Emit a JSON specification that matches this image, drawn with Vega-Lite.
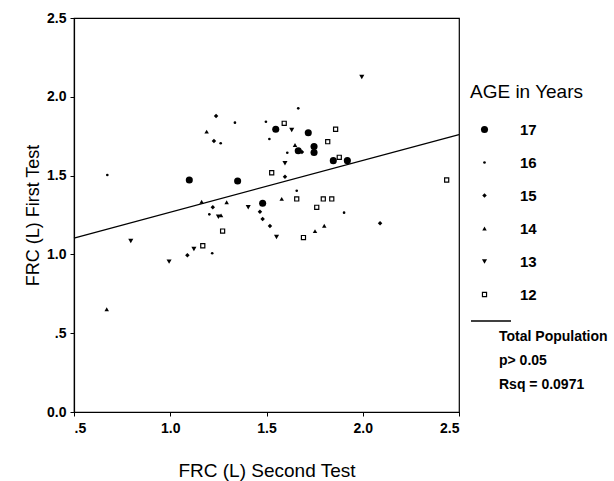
{
  "$schema": "https://vega.github.io/schema/vega-lite/v6.json",
  "width": 385,
  "height": 394,
  "autosize": {"type": "none"},
  "padding": {"left": 74, "top": 18, "right": 155, "bottom": 69},
  "background": "white",
  "config": {
    "font": "Liberation Sans",
    "view": {"stroke": "black", "strokeWidth": 1.2},
    "axis": {
      "grid": false,
      "domainColor": "black",
      "domainWidth": 1.2,
      "tickColor": "black",
      "tickSize": 4,
      "labelColor": "black",
      "titleColor": "black",
      "labelFont": "Liberation Sans",
      "titleFont": "Liberation Sans",
      "labelFontWeight": "bold",
      "labelFontSize": 14,
      "titleFontSize": 18,
      "titleFontWeight": "normal"
    },
    "legend": {
      "symbolFillColor": "black",
      "symbolStrokeWidth": 0
    }
  },
  "datasets": {
    "points": [
      {"second": 1.995, "first": 2.126, "age": "13"},
      {"second": 1.665, "first": 1.927, "age": "16"},
      {"second": 1.238, "first": 1.878, "age": "15"},
      {"second": 1.336, "first": 1.836, "age": "16"},
      {"second": 1.497, "first": 1.842, "age": "16"},
      {"second": 1.548, "first": 1.794, "age": "17"},
      {"second": 1.189, "first": 1.779, "age": "14"},
      {"second": 1.227, "first": 1.720, "age": "15"},
      {"second": 1.262, "first": 1.705, "age": "16"},
      {"second": 1.515, "first": 1.732, "age": "16"},
      {"second": 1.592, "first": 1.832, "age": "12"},
      {"second": 1.631, "first": 1.789, "age": "13"},
      {"second": 1.717, "first": 1.772, "age": "17"},
      {"second": 1.859, "first": 1.794, "age": "12"},
      {"second": 1.818, "first": 1.715, "age": "12"},
      {"second": 1.648, "first": 1.694, "age": "14"},
      {"second": 1.665, "first": 1.658, "age": "17"},
      {"second": 1.684, "first": 1.650, "age": "15"},
      {"second": 1.747, "first": 1.685, "age": "17"},
      {"second": 1.747, "first": 1.647, "age": "17"},
      {"second": 1.608, "first": 1.645, "age": "16"},
      {"second": 1.847, "first": 1.595, "age": "17"},
      {"second": 1.878, "first": 1.616, "age": "12"},
      {"second": 1.920, "first": 1.595, "age": "17"},
      {"second": 1.596, "first": 1.578, "age": "13"},
      {"second": 1.527, "first": 1.518, "age": "12"},
      {"second": 1.596, "first": 1.493, "age": "15"},
      {"second": 1.099, "first": 1.472, "age": "17"},
      {"second": 1.350, "first": 1.466, "age": "17"},
      {"second": 2.436, "first": 1.472, "age": "12"},
      {"second": 0.673, "first": 1.504, "age": "16"},
      {"second": 1.163, "first": 1.334, "age": "14"},
      {"second": 1.293, "first": 1.331, "age": "14"},
      {"second": 1.221, "first": 1.299, "age": "15"},
      {"second": 1.405, "first": 1.299, "age": "13"},
      {"second": 1.480, "first": 1.324, "age": "17"},
      {"second": 1.466, "first": 1.271, "age": "15"},
      {"second": 1.203, "first": 1.254, "age": "16"},
      {"second": 1.250, "first": 1.239, "age": "13"},
      {"second": 1.264, "first": 1.248, "age": "14"},
      {"second": 1.480, "first": 1.225, "age": "15"},
      {"second": 1.518, "first": 1.180, "age": "15"},
      {"second": 1.272, "first": 1.148, "age": "12"},
      {"second": 1.552, "first": 1.110, "age": "13"},
      {"second": 1.169, "first": 1.055, "age": "12"},
      {"second": 1.123, "first": 1.034, "age": "13"},
      {"second": 1.218, "first": 1.007, "age": "16"},
      {"second": 1.089, "first": 0.994, "age": "15"},
      {"second": 1.579, "first": 1.352, "age": "14"},
      {"second": 1.657, "first": 1.404, "age": "16"},
      {"second": 1.657, "first": 1.352, "age": "12"},
      {"second": 1.795, "first": 1.352, "age": "12"},
      {"second": 1.839, "first": 1.352, "age": "12"},
      {"second": 1.761, "first": 1.299, "age": "12"},
      {"second": 1.903, "first": 1.265, "age": "16"},
      {"second": 1.692, "first": 1.107, "age": "12"},
      {"second": 1.752, "first": 1.148, "age": "14"},
      {"second": 1.800, "first": 1.182, "age": "14"},
      {"second": 2.090, "first": 1.197, "age": "15"},
      {"second": 0.795, "first": 1.085, "age": "13"},
      {"second": 0.994, "first": 0.954, "age": "13"},
      {"second": 0.670, "first": 0.652, "age": "14"}
    ],
    "fit": [
      {"second": 0.5, "first": 1.104},
      {"second": 2.5, "first": 1.76}
    ]
  },
  "layer": [
    {
      "data": {"name": "fit"},
      "mark": {"type": "line", "strokeWidth": 1.3},
      "encoding": {
        "x": {"field": "second", "type": "quantitative"},
        "y": {"field": "first", "type": "quantitative"},
        "stroke": {
          "datum": "Total Population",
          "type": "nominal",
          "scale": {"range": ["black"]},
          "legend": {
            "orient": "none",
            "legendX": 425,
            "legendY": 282,
            "title": ["Total Population", "p> 0.05", "Rsq = 0.0971"],
            "titleOrient": "bottom",
            "titleFontSize": 14,
            "titleFontWeight": "bold",
            "titleColor": "black",
            "titleLineHeight": 24,
            "titlePadding": 4,
            "titleLimit": 300,
            "labelExpr": "''",
            "labelOffset": 0,
            "symbolType": "stroke",
            "symbolSize": 1600,
            "symbolStrokeWidth": 1.3,
            "symbolStrokeColor": "black",
            "symbolOffset": -29
          }
        }
      }
    },
    {
      "data": {"name": "points"},
      "mark": {"type": "point", "filled": true, "color": "black", "strokeWidth": 0, "opacity": 1},
      "encoding": {
        "x": {
          "field": "second",
          "type": "quantitative",
          "scale": {"domain": [0.5, 2.5], "nice": false, "zero": false},
          "axis": {
            "title": "FRC (L) Second Test",
            "titleFontSize": 19,
            "values": [0.5, 1, 1.5, 2, 2.5],
            "labelExpr": "datum.value == 0.5 ? '.5' : format(datum.value, '.1f')",
            "labelPadding": 5,
            "titlePadding": 26
          }
        },
        "y": {
          "field": "first",
          "type": "quantitative",
          "scale": {"domain": [0, 2.5], "nice": false},
          "axis": {
            "title": "FRC (L) First Test",
            "values": [0, 0.5, 1, 1.5, 2, 2.5],
            "labelExpr": "datum.value == 0.5 ? '.5' : format(datum.value, '.1f')",
            "labelPadding": 4,
            "titlePadding": 4
          }
        },
        "shape": {
          "field": "age",
          "type": "nominal",
          "scale": {"domain": ["17", "16", "15", "14", "13", "12"], "range": ["circle", "circle", "diamond", "triangle-up", "triangle-down", "M-1,-1H1V1H-1Z M-0.55,-0.55V0.55H0.55V-0.55Z"]},
          "legend": {
            "orient": "none",
            "legendX": 396,
            "legendY": 65,
            "title": "AGE in Years",
            "titleFontSize": 19,
            "titleFontWeight": "normal",
            "titleColor": "black",
            "titlePadding": 20,
            "labelFontSize": 15,
            "labelFontWeight": "bold",
            "labelColor": "black",
            "rowPadding": 17,
            "labelOffset": 28,
            "symbolOffset": 7
          }
        },
        "size": {
          "field": "age",
          "type": "nominal",
          "scale": {"type": "ordinal", "domain": ["17", "16", "15", "14", "13", "12"], "range": [50, 7, 20, 20, 26, 28]},
          "legend": {
            "orient": "none",
            "legendX": 396,
            "legendY": 65,
            "title": "AGE in Years",
            "titleFontSize": 19,
            "titleFontWeight": "normal",
            "titleColor": "black",
            "titlePadding": 20,
            "labelFontSize": 15,
            "labelFontWeight": "bold",
            "labelColor": "black",
            "rowPadding": 17,
            "labelOffset": 28,
            "symbolOffset": 7
          }
        }
      }
    }
  ]
}
